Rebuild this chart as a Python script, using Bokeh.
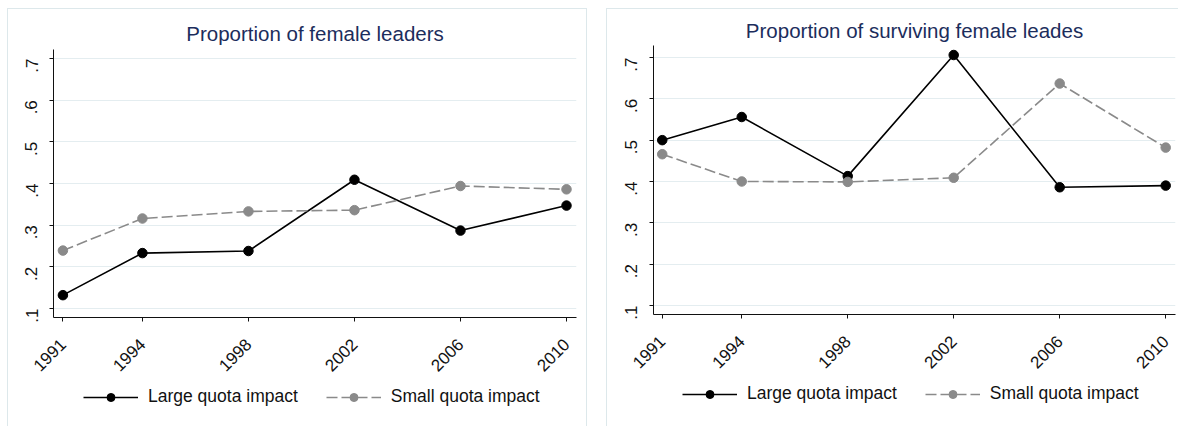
import math
from bokeh.plotting import figure
from bokeh.layouts import row, column
from bokeh.models import FixedTicker, Legend, LegendItem, Range1d
from bokeh.embed import file_html
from bokeh.resources import INLINE

# ---- data ----
years = [1991, 1994, 1998, 2002, 2006, 2010]
left_large = [0.132, 0.233, 0.238, 0.409, 0.287, 0.347]
left_small = [0.239, 0.316, 0.333, 0.336, 0.394, 0.386]
right_large = [0.500, 0.556, 0.413, 0.706, 0.386, 0.390]
right_small = [0.466, 0.400, 0.399, 0.409, 0.637, 0.482]
y_ticks = [0.1, 0.2, 0.3, 0.4, 0.5, 0.6, 0.7]
y_tick_labels = [".1", ".2", ".3", ".4", ".5", ".6", ".7"]
x_tick_labels = ["1991", "1994", "1998", "2002", "2006", "2010"]
series_names = ["Large quota impact", "Small quota impact"]
titles = ["Proportion of female leaders", "Proportion of surviving female leades"]

FONT = "Liberation Sans"
BLACK = "#000000"
GRAY = "#8a8a8a"
GRID = "#e4edf0"
BOX = "#dde8eb"
NAVY = "#1c2d5c"
LINE_W = 1.6
MARK = 9.5
DASH = "11 4"


def make_main(title, large, small, width, height, ml, mr, mt, mb, yr, xr,
              borders, title_standoff):
    p = figure(width=width, height=height, output_backend="svg",
               toolbar_location=None, x_range=Range1d(*xr), y_range=Range1d(*yr),
               min_border_left=ml, min_border_right=mr, min_border_top=mt,
               min_border_bottom=mb)
    p.styles = borders
    p.background_fill_color = "white"
    p.border_fill_color = "white"
    p.outline_line_color = None

    p.title.text = title
    p.title.text_font = FONT
    p.title.text_font_size = "20.5px"
    p.title.text_font_style = "normal"
    p.title.text_color = NAVY
    p.title.align = "center"
    p.title.standoff = title_standoff

    p.xgrid.visible = False
    p.ygrid.grid_line_color = GRID
    p.ygrid.grid_line_width = 1

    p.yaxis.ticker = FixedTicker(ticks=y_ticks)
    p.yaxis.major_label_overrides = dict(zip(y_ticks, y_tick_labels))
    p.yaxis.major_label_orientation = math.pi / 2
    p.xaxis.ticker = FixedTicker(ticks=years)
    p.xaxis.major_label_overrides = dict(zip(years, x_tick_labels))
    p.xaxis.major_label_orientation = math.pi / 4
    for ax in (p.xaxis, p.yaxis):
        ax.axis_line_color = "#111111"
        ax.axis_line_width = 1
        ax.major_tick_line_color = "#111111"
        ax.major_tick_out = 4
        ax.major_tick_in = 0
        ax.minor_tick_line_color = None
        ax.major_label_text_font = FONT
        ax.major_label_text_font_size = "17px"
        ax.major_label_text_color = "#111111"
    p.yaxis.major_label_standoff = 18
    p.xaxis.major_label_standoff = 20

    p.line(years, large, line_color=BLACK, line_width=LINE_W)
    p.scatter(years, large, size=MARK, fill_color=BLACK, line_color=BLACK)
    p.line(years, small, line_color=GRAY, line_width=LINE_W, line_dash=DASH)
    p.scatter(years, small, size=MARK, fill_color=GRAY, line_color=GRAY)
    return p


def make_legend(width, height, ml, mr, loc, borders):
    q = figure(width=width, height=height, output_backend="svg",
               toolbar_location=None, x_axis_type=None, y_axis_type=None,
               x_range=Range1d(0, 1), y_range=Range1d(0, 1),
               min_border_left=ml, min_border_right=mr,
               min_border_top=0, min_border_bottom=0)
    q.styles = borders
    q.outline_line_color = None
    q.grid.visible = False
    q.background_fill_color = "white"
    q.border_fill_color = "white"
    # legend sample glyphs only (kept outside the visible range)
    hx, hy = [-5, -4], [-5, -5]
    l1 = q.line(hx, hy, line_color=BLACK, line_width=LINE_W)
    s1 = q.scatter(hx, hy, size=8, fill_color=BLACK, line_color=BLACK)
    l2 = q.line(hx, hy, line_color=GRAY, line_width=LINE_W, line_dash=DASH)
    s2 = q.scatter(hx, hy, size=8, fill_color=GRAY, line_color=GRAY)
    legend = Legend(items=[LegendItem(label=series_names[0], renderers=[l1, s1], index=0),
                           LegendItem(label=series_names[1], renderers=[l2, s2], index=0)],
                    orientation="horizontal", location=loc,
                    glyph_width=55, glyph_height=20, label_standoff=10,
                    spacing=28, padding=0, margin=0,
                    border_line_color=None, background_fill_alpha=0,
                    label_text_font=FONT, label_text_font_size="17.5px",
                    label_text_color="#111111")
    q.add_layout(legend, "center")
    return q


b_full = {"border-left": f"1px solid {BOX}", "border-top": f"1px solid {BOX}",
          "border-right": f"1px solid {BOX}"}
b_lr = {"border-left": f"1px solid {BOX}", "border-right": f"1px solid {BOX}"}
b_lt = {"border-left": f"1px solid {BOX}", "border-top": f"1px solid {BOX}"}
b_l = {"border-left": f"1px solid {BOX}"}

left_main = make_main(titles[0], left_large, left_small, 580, 375,
                      45, 12, 40, 67, (0.0784, 0.7216), (1990.645, 2010.377),
                      b_full, 10)
left_leg = make_legend(580, 43, 45, 12, (30, 19), b_lr)
right_main = make_main(titles[1], right_large, right_small, 572, 375,
                       46, 4, 36, 70, (0.0782, 0.729), (1990.67, 2010.37),
                       b_lt, 8)
right_leg = make_legend(572, 43, 46, 4, (29, 22), b_l)

layout = row(column(left_main, left_leg, spacing=0),
             column(right_main, right_leg, spacing=0),
             spacing=19, margin=(8, 0, 0, 7))
open("out.html", "w").write(file_html(layout, INLINE))
